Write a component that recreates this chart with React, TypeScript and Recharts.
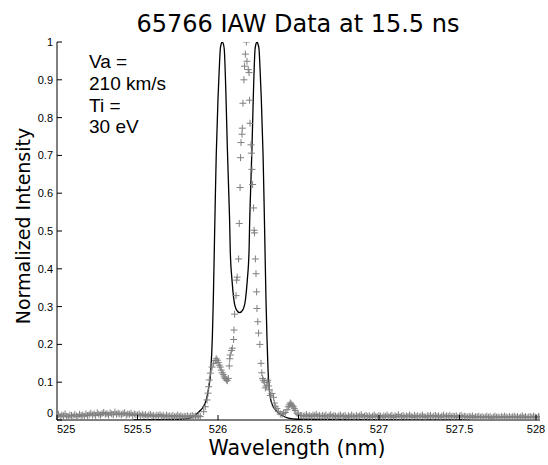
import { ComposedChart, Line, Scatter, XAxis, YAxis } from "recharts"

// measured spectrum: flat baseline sampled every 0.01 nm on both sides of the line
const baseStep = 0.01
const leftBaseStart = 525.0
const leftBase = [
    0.012, 0.015, 0.009, 0.013, 0.011, 0.016, 0.01, 0.008, 0.013, 0.012,
    0.01, 0.014, 0.011, 0.009, 0.015, 0.012, 0.013, 0.01, 0.016, 0.012,
    0.014, 0.018, 0.013, 0.016, 0.012, 0.019, 0.015, 0.013, 0.017, 0.02,
    0.015, 0.017, 0.013, 0.019, 0.016, 0.014, 0.021, 0.015, 0.018, 0.016,
    0.014, 0.017, 0.019, 0.013, 0.016, 0.015, 0.018, 0.012, 0.016, 0.014,
    0.013, 0.016, 0.011, 0.015, 0.012, 0.014, 0.01, 0.013, 0.015, 0.011,
    0.012, 0.009, 0.013, 0.011, 0.014, 0.01, 0.012, 0.008, 0.013, 0.01,
    0.011, 0.009, 0.012, 0.008, 0.01, 0.013, 0.009, 0.011, 0.008, 0.01,
    0.009, 0.011, 0.008, 0.01, 0.012, 0.009, 0.01, 0.008, 0.011,
]
const rightBaseStart = 526.52
const rightBase = [
    0.012, 0.01,
    0.011, 0.014, 0.01, 0.012, 0.009, 0.013, 0.011, 0.015, 0.01, 0.012,
    0.009, 0.012, 0.01, 0.013, 0.008, 0.011, 0.014, 0.009, 0.012, 0.01,
    0.008, 0.011, 0.013, 0.009, 0.01, 0.012, 0.007, 0.011, 0.009, 0.013,
    0.01, 0.008, 0.012, 0.009, 0.011, 0.014, 0.008, 0.01, 0.012, 0.009,
    0.011, 0.007, 0.01, 0.013, 0.009, 0.008, 0.012, 0.01, 0.007, 0.011,
    0.009, 0.013, 0.008, 0.01, 0.012, 0.007, 0.011, 0.009, 0.014, 0.008,
    0.01, 0.012, 0.008, 0.011, 0.009, 0.013, 0.01, 0.007, 0.012, 0.009,
    0.011, 0.008, 0.01, 0.013, 0.009, 0.007, 0.011, 0.01, 0.012, 0.008,
    0.01, 0.012, 0.009, 0.011, 0.007, 0.01, 0.013, 0.008, 0.011, 0.009,
    0.012, 0.008, 0.01, 0.009, 0.011, 0.007, 0.01, 0.012, 0.008, 0.01,
    0.009, 0.007, 0.01, 0.008, 0.011, 0.006, 0.009, 0.008, 0.01, 0.007,
    0.009, 0.006, 0.008, 0.01, 0.007, 0.009, 0.005, 0.008, 0.01, 0.007,
    0.008, 0.006, 0.009, 0.007, 0.01, 0.008, 0.006, 0.009, 0.007, 0.008,
    0.01, 0.007, 0.009, 0.006, 0.008, 0.011, 0.007, 0.009, 0.006, 0.008,
    0.009, 0.007, 0.01, 0.008, 0.006, 0.009, 0.008,
]

// measured points across the line itself
const peakWl = [
    525.89, 525.911, 525.921, 525.932, 525.938, 525.942, 525.946, 525.952, 525.963, 525.973,
    525.983, 525.989, 525.996, 526.002, 526.008, 526.014, 526.02, 526.026, 526.033, 526.039,
    526.045, 526.052, 526.058, 526.064, 526.07, 526.073, 526.076, 526.083, 526.089, 526.097,
    526.099, 526.103, 526.112, 526.116, 526.119, 526.128, 526.132, 526.137, 526.14, 526.143,
    526.149, 526.151, 526.155, 526.161, 526.165, 526.17, 526.176, 526.18, 526.188, 526.193,
    526.196, 526.199, 526.205, 526.207, 526.211, 526.215, 526.221, 526.224, 526.227, 526.232,
    526.236, 526.24, 526.242, 526.247, 526.252, 526.26, 526.267, 526.272, 526.277, 526.281,
    526.288, 526.294, 526.3, 526.306, 526.309, 526.314, 526.319, 526.325, 526.335, 526.345,
    526.35, 526.356, 526.366, 526.375, 526.387, 526.398, 526.407, 526.418, 526.429, 526.437,
    526.443, 526.449, 526.455, 526.461, 526.468, 526.474, 526.48, 526.491, 526.499, 526.511,
]
const peakVal = [
    0.009, 0.022, 0.035, 0.053, 0.071, 0.088, 0.106, 0.124, 0.14, 0.15,
    0.157, 0.162, 0.158, 0.152, 0.145, 0.14, 0.132, 0.125, 0.12, 0.114,
    0.11, 0.106, 0.104, 0.11, 0.143, 0.162, 0.172, 0.184, 0.19, 0.213,
    0.238, 0.28, 0.329, 0.37, 0.378, 0.426, 0.52, 0.615, 0.694, 0.734,
    0.756, 0.772, 0.838, 0.9, 0.936, 0.968, 1.0, 0.949, 0.927, 0.919,
    0.846, 0.785, 0.728, 0.706, 0.663, 0.623, 0.561, 0.502, 0.495, 0.426,
    0.387, 0.339, 0.295, 0.26, 0.23, 0.2, 0.15, 0.125, 0.11, 0.105,
    0.1, 0.085, 0.09, 0.1, 0.105, 0.09, 0.08, 0.065, 0.07, 0.06,
    0.045, 0.035, 0.03, 0.022, 0.016, 0.015, 0.018, 0.02, 0.027, 0.035,
    0.04, 0.045, 0.042, 0.038, 0.035, 0.03, 0.025, 0.018, 0.014, 0.012,
]

// theoretical IAW fit
const fitWl = [
    525.474, 525.766, 525.828, 525.859, 525.89, 525.909, 525.927, 525.94, 525.955, 525.965,
    525.971, 525.977, 525.983, 525.989, 526.0, 526.008, 526.014, 526.02, 526.026, 526.033,
    526.039, 526.05, 526.058, 526.067, 526.072, 526.076, 526.087, 526.098, 526.114, 526.134,
    526.155, 526.171, 526.182, 526.193, 526.197, 526.202, 526.211, 526.219, 526.23, 526.236,
    526.242, 526.248, 526.255, 526.261, 526.269, 526.28, 526.286, 526.292, 526.298, 526.304,
    526.311, 526.319, 526.328, 526.343, 526.362, 526.393, 526.436, 526.492, 527.567,
]
const fitVal = [
    0, 0.002, 0.005, 0.013, 0.025, 0.035, 0.053, 0.08, 0.13, 0.22,
    0.32, 0.45, 0.58, 0.7, 0.85, 0.93, 0.98, 0.995, 1.0, 0.995,
    0.98, 0.85, 0.72, 0.6, 0.53, 0.45, 0.37, 0.32, 0.292, 0.284,
    0.292, 0.32, 0.37, 0.45, 0.53, 0.6, 0.72, 0.85, 0.98, 0.995,
    1.0, 0.995, 0.98, 0.93, 0.85, 0.7, 0.58, 0.45, 0.32, 0.22,
    0.13, 0.08, 0.053, 0.035, 0.025, 0.013, 0.005, 0.002, 0,
]

const xTicks = [525, 525.5, 526, 526.5, 527, 527.5, 528]
const yTicks = [0, 0.1, 0.2, 0.3, 0.4, 0.5, 0.6, 0.7, 0.8, 0.9, 1]
const notes = ["Va =", "210 km/s", "Ti =", "30 eV"]

const measured = [
    ...leftBase.map((v, i) => ({ x: +(leftBaseStart + i * baseStep).toFixed(3), y: v })),
    ...peakWl.map((w, i) => ({ x: w, y: peakVal[i] })),
    ...rightBase.map((v, i) => ({ x: +(rightBaseStart + i * baseStep).toFixed(3), y: v })),
]
const fit = fitWl.map((w, i) => ({ x: w, y: fitVal[i] }))

const tickFont = "'Liberation Sans', Arial, sans-serif"
const labelFont = "'DejaVu Sans', sans-serif"

function XTick({ x, y, payload }: any) {
    const first = payload.value === xTicks[0]
    return (
        <g>
            <line x1={x} y1={y} x2={x} y2={y - 5} stroke="#000" />
            <text x={x} y={y + 13} textAnchor={first ? "start" : "middle"} fontSize={11} fontFamily={tickFont} fill="#000">
                {payload.value}
            </text>
        </g>
    )
}

function YTick({ x, y, payload }: any) {
    const zero = payload.value === 0
    return (
        <g>
            <line x1={x} y1={y} x2={x + 5} y2={y} stroke="#000" />
            <text x={x - 4} y={y + (zero ? -3 : 4)} textAnchor="end" fontSize={11} fontFamily={tickFont} fill="#000">
                {payload.value}
            </text>
        </g>
    )
}

function Plus({ cx, cy }: any) {
    return <path d={`M${cx - 3.5},${cy}h7M${cx},${cy - 3.5}v7`} stroke="#808080" strokeWidth={1} fill="none" />
}

export default function App() {
    return (
        <div style={{ position: "absolute", left: 0, top: 0, width: 548, height: 465, background: "#fff" }}>
            <ComposedChart width={548} height={465} margin={{ top: 42, right: 8, bottom: 0, left: 0 }}>
                <XAxis
                    dataKey="x"
                    type="number"
                    domain={[525, 528]}
                    ticks={xTicks}
                    allowDataOverflow
                    height={45}
                    tickSize={0}
                    tickMargin={0}
                    tick={<XTick />}
                    axisLine={{ stroke: "#000" }}
                />
                <YAxis
                    type="number"
                    domain={[0, 1]}
                    ticks={yTicks}
                    allowDataOverflow
                    width={57}
                    tickSize={0}
                    tickMargin={0}
                    tick={<YTick />}
                    axisLine={{ stroke: "#000" }}
                />
                <Scatter data={measured} dataKey="y" shape={<Plus />} isAnimationActive={false} />
                <Line data={fit} dataKey="y" type="monotone" stroke="#000" strokeWidth={1.3} dot={false} isAnimationActive={false} />
            </ComposedChart>
            <svg width={548} height={465} style={{ position: "absolute", left: 0, top: 0, pointerEvents: "none" }}>
                <text x={298} y={32} textAnchor="middle" fontSize={24} fontFamily={labelFont} fill="#000">
                    65766 IAW Data at 15.5 ns
                </text>
                <text x={297} y={455} textAnchor="middle" fontSize={20.5} fontFamily={labelFont} fill="#000">
                    Wavelength (nm)
                </text>
                <text x={30} y={226} textAnchor="middle" fontSize={19} fontFamily={labelFont} fill="#000" transform="rotate(-90 30 226)">
                    Normalized Intensity
                </text>
                {notes.map((t, i) => (
                    <text key={t} x={89} y={68 + i * 21.8} fontSize={19} fontFamily={tickFont} fill="#000">
                        {t}
                    </text>
                ))}
            </svg>
        </div>
    )
}
